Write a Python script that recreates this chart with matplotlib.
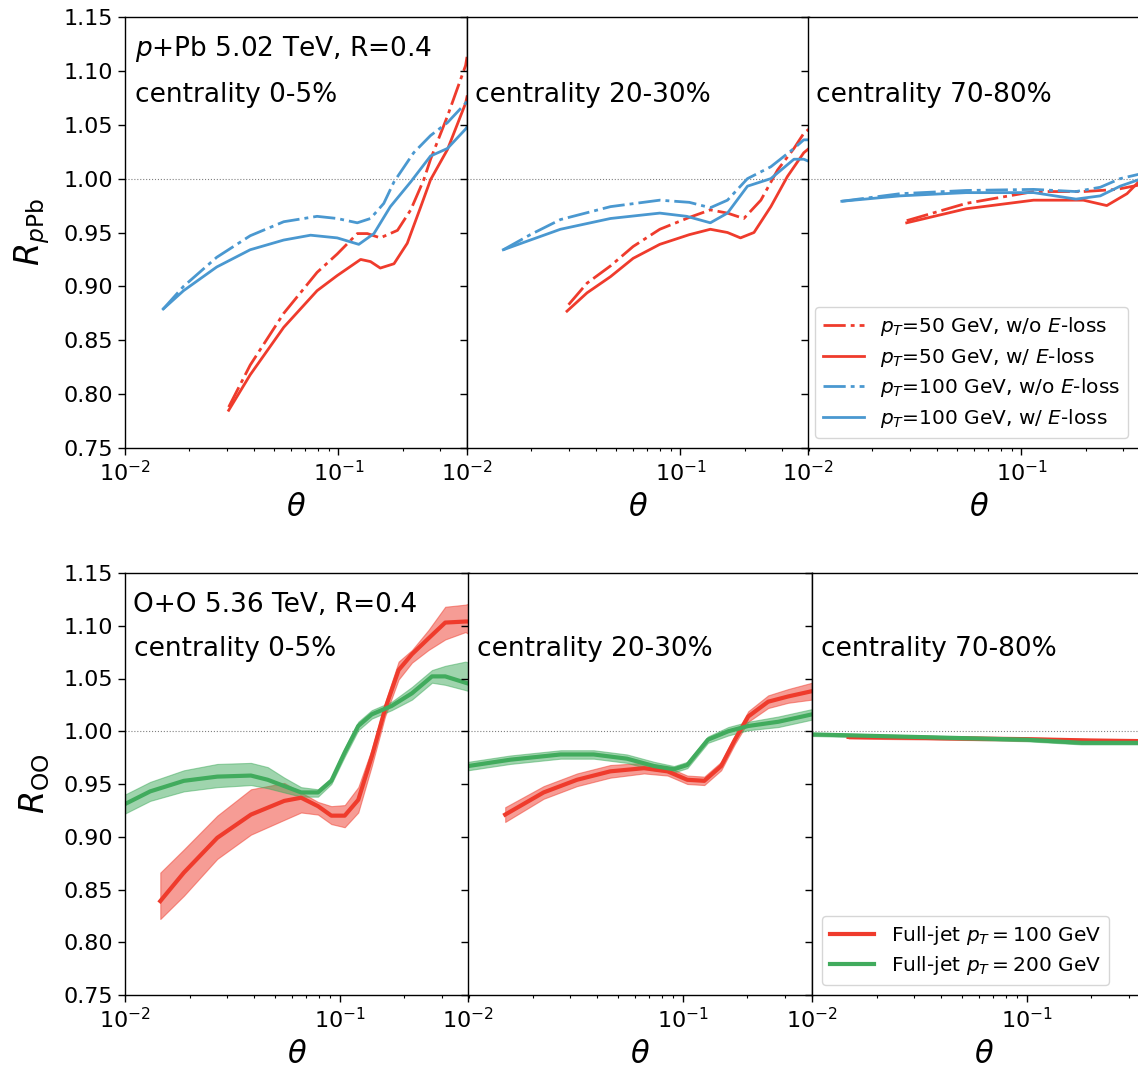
import numpy as np
import matplotlib.pyplot as plt

# ---- p+Pb 5.02 TeV, centrality 0-5% ----
th_pb0_r50_wo = [0.0306, 0.0386, 0.0554, 0.0794, 0.0986, 0.1225, 0.1365, 0.157, 0.189, 0.218, 0.251, 0.270, 0.324, 0.394, 0.40]
r_pb0_r50_wo = [0.788, 0.827, 0.875, 0.913, 0.930, 0.949, 0.949, 0.945, 0.952, 0.971, 0.999, 1.018, 1.058, 1.105, 1.113]
th_pb0_r50_w = [0.0306, 0.0386, 0.0554, 0.0794, 0.0986, 0.127, 0.1413, 0.157, 0.182, 0.21, 0.243, 0.27, 0.324, 0.394, 0.40]
r_pb0_r50_w = [0.785, 0.818, 0.862, 0.896, 0.910, 0.925, 0.923, 0.917, 0.921, 0.940, 0.974, 0.999, 1.027, 1.070, 1.076]
th_pb0_b100_wo = [0.0151, 0.0188, 0.0269, 0.0386, 0.0554, 0.0794, 0.0986, 0.1225, 0.1413, 0.163, 0.182, 0.225, 0.270, 0.324, 0.394, 0.40]
r_pb0_b100_wo = [0.879, 0.900, 0.927, 0.947, 0.960, 0.965, 0.963, 0.959, 0.963, 0.977, 0.997, 1.024, 1.040, 1.052, 1.070, 1.072]
th_pb0_b100_w = [0.0151, 0.0188, 0.0269, 0.0386, 0.0554, 0.074, 0.0986, 0.1245, 0.1466, 0.175, 0.218, 0.270, 0.324, 0.394, 0.40]
r_pb0_b100_w = [0.879, 0.896, 0.918, 0.934, 0.943, 0.9475, 0.945, 0.939, 0.949, 0.974, 0.997, 1.021, 1.028, 1.046, 1.048]

# ---- p+Pb 5.02 TeV, centrality 20-30% ----
th_pb20_r50_wo = [0.0299, 0.0365, 0.047, 0.060, 0.080, 0.110, 0.138, 0.166, 0.198, 0.238, 0.285, 0.340, 0.378, 0.40]
r_pb20_r50_wo = [0.883, 0.903, 0.919, 0.937, 0.953, 0.964, 0.971, 0.968, 0.963, 0.980, 1.008, 1.028, 1.042, 1.046]
th_pb20_r50_w = [0.0294, 0.0365, 0.047, 0.060, 0.080, 0.110, 0.138, 0.166, 0.191, 0.221, 0.265, 0.317, 0.378, 0.40]
r_pb20_r50_w = [0.877, 0.894, 0.909, 0.926, 0.939, 0.948, 0.953, 0.950, 0.945, 0.950, 0.974, 1.002, 1.024, 1.028]
th_pb20_b100_wo = [0.0148, 0.0198, 0.0274, 0.047, 0.080, 0.110, 0.138, 0.166, 0.206, 0.265, 0.340, 0.378, 0.40]
r_pb20_b100_wo = [0.934, 0.948, 0.962, 0.974, 0.980, 0.978, 0.973, 0.980, 1.000, 1.011, 1.028, 1.036, 1.036]
th_pb20_b100_w = [0.0148, 0.0198, 0.0274, 0.047, 0.080, 0.107, 0.138, 0.166, 0.206, 0.265, 0.340, 0.378, 0.40]
r_pb20_b100_w = [0.934, 0.943, 0.953, 0.963, 0.968, 0.965, 0.959, 0.968, 0.993, 1.000, 1.018, 1.018, 1.016]

# ---- p+Pb 5.02 TeV, centrality 70-80% ----
th_pb70_r50_wo = [0.029, 0.055, 0.114, 0.195, 0.280, 0.354, 0.40]
r_pb70_r50_wo = [0.961, 0.977, 0.988, 0.988, 0.990, 0.994, 0.996]
th_pb70_r50_w = [0.029, 0.055, 0.114, 0.195, 0.251, 0.312, 0.354, 0.40]
r_pb70_r50_w = [0.959, 0.972, 0.980, 0.980, 0.975, 0.986, 0.997, 1.000]
th_pb70_b100_wo = [0.0144, 0.027, 0.055, 0.114, 0.180, 0.234, 0.290, 0.354, 0.40]
r_pb70_b100_wo = [0.979, 0.986, 0.989, 0.990, 0.988, 0.992, 1.000, 1.004, 1.005]
th_pb70_b100_w = [0.0144, 0.027, 0.055, 0.114, 0.180, 0.234, 0.290, 0.354, 0.40]
r_pb70_b100_w = [0.979, 0.984, 0.987, 0.987, 0.981, 0.984, 0.993, 0.999, 1.002]

# ---- O+O 5.36 TeV, centrality 0-5% ----
th_oo0_100 = [0.0146, 0.0188, 0.0269, 0.0386, 0.0552, 0.0661, 0.0792, 0.0914, 0.1055, 0.122, 0.141, 0.1626, 0.188, 0.217, 0.259, 0.310, 0.385, 0.40]
r_oo0_100 = [0.839, 0.866, 0.899, 0.921, 0.934, 0.937, 0.929, 0.920, 0.920, 0.935, 0.976, 1.021, 1.058, 1.073, 1.088, 1.103, 1.104, 1.104]
hi_oo0_100 = [0.866, 0.888, 0.920, 0.945, 0.951, 0.942, 0.933, 0.929, 0.930, 0.947, 0.983, 1.027, 1.066, 1.077, 1.096, 1.118, 1.120, 1.121]
lo_oo0_100 = [0.822, 0.844, 0.879, 0.902, 0.916, 0.923, 0.921, 0.912, 0.909, 0.923, 0.967, 1.014, 1.049, 1.065, 1.077, 1.087, 1.094, 1.092]
th_oo0_200 = [0.010, 0.0131, 0.0188, 0.0269, 0.0386, 0.0462, 0.0552, 0.0661, 0.0792, 0.0914, 0.1055, 0.122, 0.141, 0.1746, 0.217, 0.269, 0.310, 0.385, 0.40]
r_oo0_200 = [0.931, 0.943, 0.953, 0.957, 0.958, 0.954, 0.948, 0.942, 0.942, 0.953, 0.980, 1.005, 1.016, 1.024, 1.036, 1.052, 1.052, 1.046, 1.045]
hi_oo0_200 = [0.940, 0.952, 0.963, 0.969, 0.970, 0.966, 0.956, 0.947, 0.945, 0.956, 0.984, 1.009, 1.020, 1.028, 1.042, 1.058, 1.062, 1.066, 1.065]
lo_oo0_200 = [0.922, 0.934, 0.943, 0.947, 0.949, 0.946, 0.942, 0.938, 0.938, 0.950, 0.976, 1.001, 1.012, 1.020, 1.030, 1.046, 1.044, 1.039, 1.038]

# ---- O+O 5.36 TeV, centrality 20-30% ----
th_oo20_100 = [0.0149, 0.0225, 0.0322, 0.046, 0.066, 0.085, 0.105, 0.126, 0.151, 0.175, 0.202, 0.25, 0.31, 0.40]
r_oo20_100 = [0.921, 0.942, 0.954, 0.962, 0.965, 0.962, 0.954, 0.953, 0.967, 0.992, 1.014, 1.028, 1.033, 1.038]
hi_oo20_100 = [0.928, 0.948, 0.960, 0.968, 0.970, 0.966, 0.958, 0.957, 0.971, 0.996, 1.019, 1.034, 1.040, 1.046]
lo_oo20_100 = [0.914, 0.936, 0.948, 0.956, 0.960, 0.958, 0.950, 0.949, 0.963, 0.988, 1.009, 1.022, 1.027, 1.030]
th_oo20_200 = [0.010, 0.0157, 0.027, 0.0385, 0.055, 0.0736, 0.091, 0.105, 0.131, 0.163, 0.202, 0.279, 0.40]
r_oo20_200 = [0.967, 0.973, 0.978, 0.978, 0.974, 0.967, 0.964, 0.968, 0.992, 1.000, 1.005, 1.009, 1.016]
hi_oo20_200 = [0.971, 0.977, 0.982, 0.982, 0.978, 0.971, 0.967, 0.971, 0.995, 1.004, 1.009, 1.014, 1.021]
lo_oo20_200 = [0.963, 0.969, 0.974, 0.974, 0.970, 0.963, 0.961, 0.965, 0.989, 0.996, 1.001, 1.004, 1.011]

# ---- O+O 5.36 TeV, centrality 70-80% ----
th_oo70_100 = [0.0148, 0.04, 0.10, 0.20, 0.40]
r_oo70_100 = [0.9946, 0.9935, 0.9925, 0.9912, 0.9905]
hi_oo70_100 = [0.9961, 0.9950, 0.9940, 0.9928, 0.9922]
lo_oo70_100 = [0.9931, 0.9920, 0.9910, 0.9896, 0.9888]
th_oo70_200 = [0.010, 0.04, 0.10, 0.18, 0.40]
r_oo70_200 = [0.997, 0.994, 0.992, 0.989, 0.989]
hi_oo70_200 = [0.9985, 0.9955, 0.9935, 0.9905, 0.9905]
lo_oo70_200 = [0.9955, 0.9925, 0.9905, 0.9875, 0.9875]

cent_labels = ['centrality 0-5%', 'centrality 20-30%', 'centrality 70-80%']
yticks = [0.75, 0.80, 0.85, 0.90, 0.95, 1.00, 1.05, 1.10, 1.15]

RED = '#ef3b2c'
BLUE = '#4a98d0'
GREEN = '#41ab5d'
DASHDOT = (0, (8, 1.8, 1.4, 1.8))

W, H = 1138, 1071
fig = plt.figure(figsize=(W / 100, H / 100), dpi=100)


def make_ax(left, top, w, h):
    return fig.add_axes([left / W, 1 - (top + h) / H, w / W, h / H])


top_axes = [make_ax(l, 17, 342, 431) for l in (125, 467, 808)]
bot_axes = [make_ax(l, 573, 344, 422) for l in (125, 468, 812)]

for i, ax in enumerate(top_axes + bot_axes):
    ax.set_xscale('log')
    ax.set_xlim(0.01, 0.4)
    ax.set_ylim(0.75, 1.15)
    ax.set_yticks(yticks)
    ax.axhline(1.0, color='gray', lw=0.8, ls=':', zorder=0)
    ax.tick_params(labelsize=16, length=5, width=1.0)
    ax.tick_params(which='minor', length=2.5, width=0.8)
    ax.set_xlabel(r'$\theta$', fontsize=22, labelpad=6)
    if i % 3 != 0:
        ax.tick_params(labelleft=False)
    for s in ax.spines.values():
        s.set_linewidth(1.0)

# top row: p+Pb
pb_sets = [
    (th_pb0_r50_wo, r_pb0_r50_wo, th_pb0_r50_w, r_pb0_r50_w,
     th_pb0_b100_wo, r_pb0_b100_wo, th_pb0_b100_w, r_pb0_b100_w),
    (th_pb20_r50_wo, r_pb20_r50_wo, th_pb20_r50_w, r_pb20_r50_w,
     th_pb20_b100_wo, r_pb20_b100_wo, th_pb20_b100_w, r_pb20_b100_w),
    (th_pb70_r50_wo, r_pb70_r50_wo, th_pb70_r50_w, r_pb70_r50_w,
     th_pb70_b100_wo, r_pb70_b100_wo, th_pb70_b100_w, r_pb70_b100_w),
]
for ax, s in zip(top_axes, pb_sets):
    ax.plot(s[0], s[1], color=RED, ls=DASHDOT, lw=2, label=r'$p_T$=50 GeV, w/o $E$-loss')
    ax.plot(s[2], s[3], color=RED, ls='-', lw=2, label=r'$p_T$=50 GeV, w/ $E$-loss')
    ax.plot(s[4], s[5], color=BLUE, ls=DASHDOT, lw=2, label=r'$p_T$=100 GeV, w/o $E$-loss')
    ax.plot(s[6], s[7], color=BLUE, ls='-', lw=2, label=r'$p_T$=100 GeV, w/ $E$-loss')

top_axes[0].set_ylabel(r'$R_{p\mathrm{Pb}}$', fontsize=24, labelpad=8)
top_axes[0].text(0.03, 0.925, r'$p$+Pb 5.02 TeV, R=0.4', transform=top_axes[0].transAxes,
                 fontsize=19, va='center')
for ax, lab in zip(top_axes, cent_labels):
    ax.text(0.028 if ax is top_axes[0] else 0.022, 0.82, lab, transform=ax.transAxes,
            fontsize=19, va='center')
top_axes[2].legend(loc='lower right', fontsize=14.5, labelspacing=0.38,
                   bbox_to_anchor=(0.965, 0.0))

# bottom row: O+O
oo_sets = [
    (th_oo0_100, r_oo0_100, lo_oo0_100, hi_oo0_100, th_oo0_200, r_oo0_200, lo_oo0_200, hi_oo0_200),
    (th_oo20_100, r_oo20_100, lo_oo20_100, hi_oo20_100, th_oo20_200, r_oo20_200, lo_oo20_200, hi_oo20_200),
    (th_oo70_100, r_oo70_100, lo_oo70_100, hi_oo70_100, th_oo70_200, r_oo70_200, lo_oo70_200, hi_oo70_200),
]
for ax, s in zip(bot_axes, oo_sets):
    ax.fill_between(s[0], s[2], s[3], color=RED, alpha=0.5, lw=0.8)
    ax.plot(s[0], s[1], color=RED, lw=3, label=r'Full-jet $p_T = 100$ GeV')
    ax.fill_between(s[4], s[6], s[7], color=GREEN, alpha=0.5, lw=0.8)
    ax.plot(s[4], s[5], color=GREEN, lw=3, label=r'Full-jet $p_T = 200$ GeV')

bot_axes[0].set_ylabel(r'$R_{\mathrm{OO}}$', fontsize=24, labelpad=8)
bot_axes[0].text(0.022, 0.925, 'O+O 5.36 TeV, R=0.4', transform=bot_axes[0].transAxes,
                 fontsize=19, va='center')
for ax, lab in zip(bot_axes, cent_labels):
    ax.text(0.025, 0.82, lab, transform=ax.transAxes, fontsize=19, va='center')
bot_axes[2].legend(loc='lower left', fontsize=14.5, handlelength=2.2, labelspacing=0.35)

fig.savefig('out.png', dpi=100)
